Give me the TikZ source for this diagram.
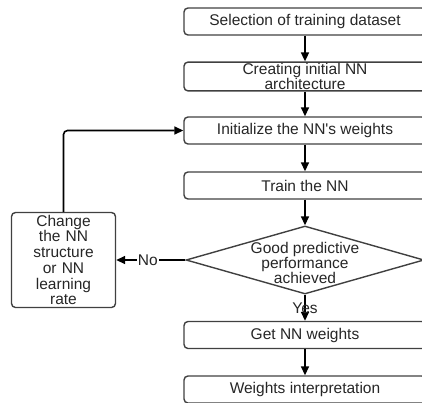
\documentclass[tikz,border=0pt]{standalone}
\usepackage{fontspec}
\setsansfont{Liberation Sans}
\usetikzlibrary{shapes.geometric,arrows.meta,positioning}

\begin{document}
\begin{tikzpicture}[    font=\sffamily\fontsize{15.5}{15.7}\selectfont,
    >={Triangle[length=9pt,width=8pt]},
    node distance=54.5pt,
    base/.style={draw=black!75, line width=1.4pt, on grid, align=center, text=black!85},
    proc/.style={base, rectangle, rounded corners=4pt, minimum width=242pt, minimum height=27pt, inner sep=1pt},
    test/.style={base, diamond, inner sep=0pt, minimum width=238pt, minimum height=68pt},
    norm/.style={->, draw, black, line width=1.6pt},
    lbl/.style={text=black!85, inner sep=1pt}]

\useasboundingbox (0,0) rectangle (422pt,-402pt);

\node [proc] (sel) at (305pt,-21.5pt) {Selection of training dataset};
\node [proc, font=\sffamily\fontsize{15.5}{13}\selectfont] (arch) [below=55pt of sel] {Creating initial NN\\architecture};
\node [proc] (init) [below=54pt of arch] {Initialize the NN\textquotesingle s weights};
\node [proc] (train) [below=55pt of init] {Train the NN};
\node [test, label={[lbl, align=center, font=\sffamily\fontsize{15.5}{14.6}\selectfont, yshift=-3pt]center:{Good predictive\\performance\\achieved}}] (good) [below=74.5pt of train] {};
\node [proc] (getw) [below=75pt of good] {Get NN weights};
\node [proc] (interp) [below=of getw] {Weights interpretation};
\node [base, rectangle, rounded corners=4pt, text width=100pt, minimum height=95pt, inner sep=2pt] (change) [left=241.5pt of good] {Change\\the NN\\structure\\or NN\\learning\\rate};

\draw [norm] (sel) -- (arch);
\draw [norm] (arch) -- (init);
\draw [norm] (init) -- (train);
\draw [norm] (train) -- (good);
\draw [norm] (good) -- (getw) node[midway, lbl] {Yes};
\draw [norm] (getw) -- (interp);
\draw [norm] (good) -- (change) node[midway, lbl, fill=white, xshift=-3pt] {No};
\draw [norm, rounded corners=4pt] (change.north) |- (init.west);

\end{tikzpicture}
\end{document}
